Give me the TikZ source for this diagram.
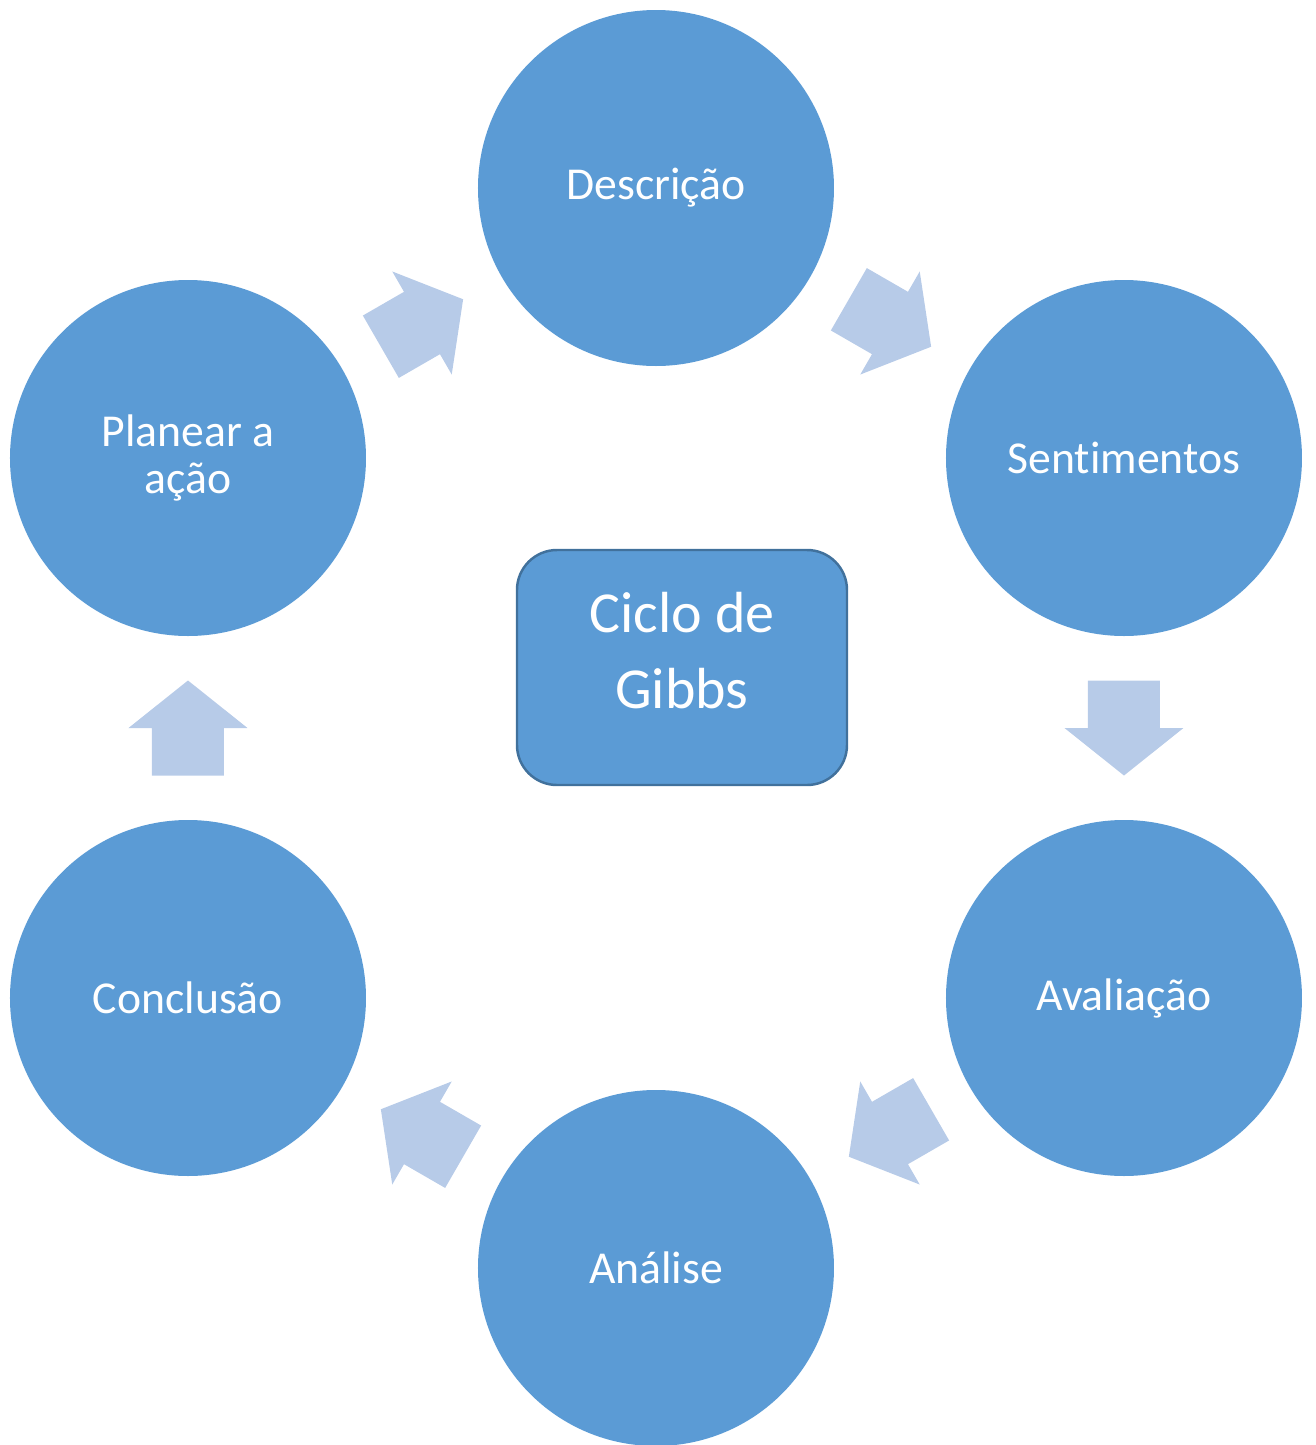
\documentclass[tikz,border=0pt]{standalone}
\usepackage{fontspec}
\setmainfont{Carlito}[RawFeature=-liga]
\usepackage{xcolor}
\usepackage{tikz}
\usetikzlibrary{calc}

\definecolor{circblue}{RGB}{91,155,213}
\definecolor{arrowblue}{RGB}{183,203,232}
\definecolor{boxline}{RGB}{65,113,156}

\tikzset{
    etapa/.style={circle, fill=circblue, minimum size=3.56cm, inner sep=0pt,
    text=white, align=center, font=\fontsize{13}{13.6}\selectfont},
    pics/seta/.style={code={
        \fill[arrowblue] (-0.475,-0.36) -- (0,-0.36) -- (0,-0.595) -- (0.475,0)
        -- (0,0.595) -- (0,0.36) -- (-0.475,0.36) -- cycle;}}
}

\begin{document}
\begin{tikzpicture}
    \useasboundingbox (-6.56,-7.17) rectangle (6.59,7.28);

    \node[etapa] (desc) at (0,5.40) {Descrição};
    \node[etapa] (sent) at (4.68,2.70) {Sentimentos};
    \node[etapa] (aval) at (4.68,-2.70) {Avaliação};
    \node[etapa] (anal) at (0,-5.40) {Análise};
    \node[etapa] (conc) at (-4.68,-2.70) {Conclusão};
    \node[etapa] (plan) at (-4.68,2.70) {Planear a\\ação};

    \node[draw=boxline, line width=0.7pt, fill=circblue, rounded corners=0.4cm,
    minimum width=3.30cm, minimum height=2.35cm,
    label={[text=white, align=center, yshift=0.17cm,
    font=\fontsize{16.5}{21.5}\selectfont]center:Ciclo de\\Gibbs}] (ciclo) at (0.26,0.605) {};

    % setas entre as etapas
    \foreach \a/\b in {plan/desc, desc/sent, sent/aval, aval/anal, anal/conc, conc/plan}
        \path let \p1=($(\b)-(\a)$), \n1={atan2(\y1,\x1)} in
        ($(\a)!0.5!(\b)$) pic[rotate=\n1] {seta};
\end{tikzpicture}
\end{document}
